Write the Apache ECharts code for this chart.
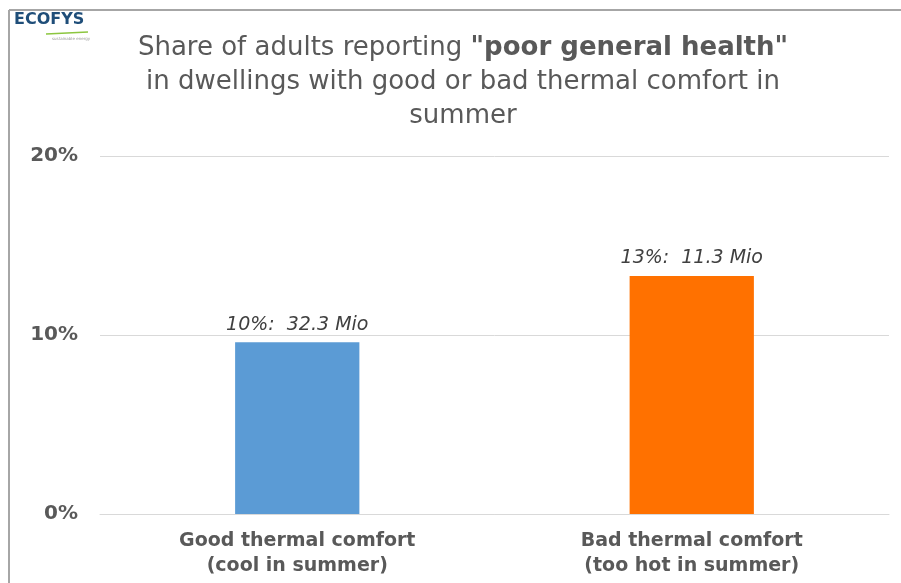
<!DOCTYPE html>
<html>
<head>
<meta charset="utf-8">
<script src="https://cdn.jsdelivr.net/npm/echarts@6/dist/echarts.min.js"></script>
<style>html,body{margin:0;padding:0;background:#fff}#c{width:901px;height:583px}</style>
</head>
<body>
<div id="c"></div>
<script>
var categories = ['Good thermal comfort\n(cool in summer)', 'Bad thermal comfort\n(too hot in summer)'];
var shares = [0.096, 0.133];
var millions = [32.3, 11.3];
var barColors = ['#5b9bd5', '#ff7100'];
var yTicks = [0, 0.1, 0.2];

var chart = echarts.init(document.getElementById('c'), null, {renderer: 'canvas'});
var font = 'DejaVu Sans, Verdana, sans-serif';
chart.setOption({
  animation: false,
  backgroundColor: '#fff',
  title: {
    text: '{n|Share of adults reporting }{b|"poor general health"}\n{n|in dwellings with good or bad thermal comfort in}\n{n|summer}',
    left: 458,
    textAlign: 'center',
    top: 26,
    textStyle: {
      fontWeight: 'normal',
      rich: {
        n: {fontFamily: font, fontSize: 26, fontWeight: 'normal', color: '#595959', lineHeight: 34},
        b: {fontFamily: font, fontSize: 26, fontWeight: 'bold', color: '#595959', lineHeight: 34}
      }
    }
  },
  graphic: [
    {type: 'line', shape: {x1: 9, y1: 10, x2: 901, y2: 10}, style: {stroke: '#a6a6a6', lineWidth: 2}},
    {type: 'line', shape: {x1: 9, y1: 10, x2: 9, y2: 583}, style: {stroke: '#a6a6a6', lineWidth: 2}},
    {type: 'text', left: 14, top: 12, style: {text: 'ECOFYS', font: 'bold 16px ' + font, fill: '#1f4e79'}},
    {type: 'line', shape: {x1: 46, y1: 34, x2: 88, y2: 32}, style: {stroke: '#8cc63f', lineWidth: 1.5}},
    {type: 'text', left: 52, top: 37, style: {text: 'sustainable energy', font: '4px ' + font, fill: '#999'}}
  ],
  grid: {left: 100, right: 12, top: 156, bottom: 69},
  xAxis: {
    type: 'category',
    data: categories,
    axisLine: {lineStyle: {color: '#d9d9d9', width: 1}},
    axisTick: {show: false},
    axisLabel: {fontFamily: font, fontSize: 19, fontWeight: 'bold', color: '#595959', lineHeight: 25, margin: 15}
  },
  yAxis: {
    type: 'value',
    min: 0, max: 0.2, interval: 0.1,
    axisLine: {show: false},
    axisTick: {show: false},
    splitLine: {lineStyle: {color: '#d9d9d9', width: 1}},
    axisLabel: {
      fontFamily: font, fontSize: 20, fontWeight: 'bold', color: '#595959', margin: 22,
      formatter: function (v) { return Math.round(v * 100) + '%'; }
    }
  },
  series: [{
    type: 'bar',
    barWidth: '31.5%',
    data: shares.map(function (v, i) { return {value: v, itemStyle: {color: barColors[i]}}; }),
    label: {
      show: true,
      position: 'top',
      distance: 8,
      fontFamily: font, fontSize: 19, fontStyle: 'italic', color: '#404040',
      formatter: function (p) { return Math.round(p.value * 100) + '%:  ' + millions[p.dataIndex].toFixed(1) + ' Mio'; }
    }
  }]
});
</script>
</body>
</html>
